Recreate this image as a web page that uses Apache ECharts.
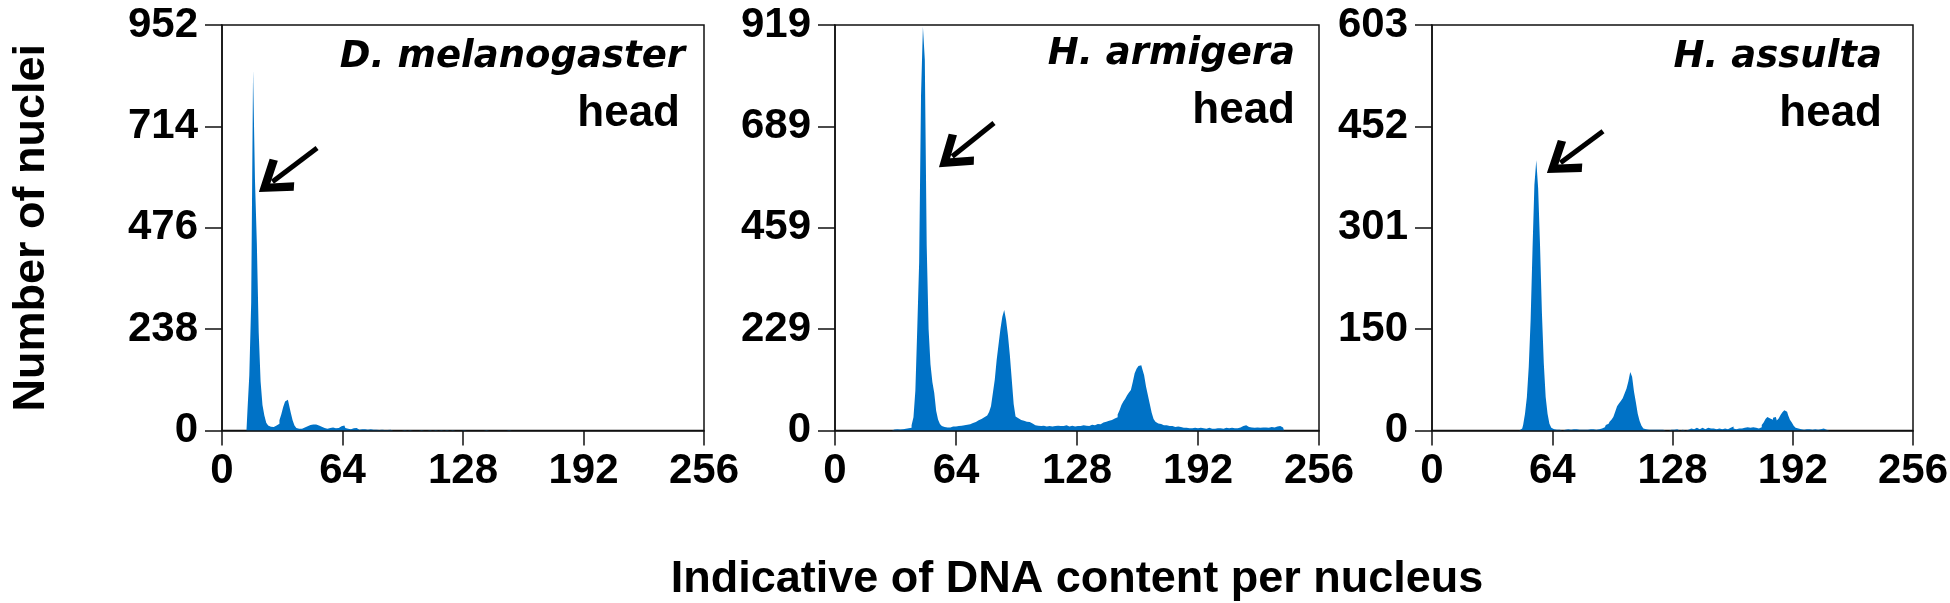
<!DOCTYPE html>
<html>
<head>
<meta charset="utf-8">
<script src="https://cdn.jsdelivr.net/npm/echarts@6/dist/echarts.min.js"></script>
<style>html,body{margin:0;padding:0;background:#fff}#c{width:1950px;height:603px}</style>
</head>
<body>
<div id="c"></div>
<script>
// ---- data ----
const xTicks = [0, 64, 128, 192, 256];
const yMaxes = [952, 919, 603];
const speciesNames = ['D. melanogaster', 'H. armigera', 'H. assulta'];
const tissueName = 'head';
const xTitle = 'Indicative of DNA content per nucleus';
const yTitle = 'Number of nuclei';

// D. melanogaster: counts for channels starting at dmelStart
const dmelStart = 13;
const dmelCounts = [
  0, 45, 130, 300, 846, 590, 440, 230, 115, 60,      // 13-22
  35, 18, 12, 9, 8, 10, 12, 16, 24, 38,              // 23-32
  55, 68, 72, 62, 42, 24, 12, 6, 4, 4,               // 33-42
  5, 7, 10, 12, 13, 14, 13, 14, 12, 10,              // 43-52
  9, 6, 5, 4, 6, 8, 7, 5, 4, 6,                      // 53-62
  10, 14, 12, 6, 4, 3, 4, 5, 6, 3,                   // 63-72
  2, 3, 2, 3, 2, 2, 3, 2, 2, 2,                      // 73-82
  1, 2, 2, 1, 2, 1, 2, 1, 0, 0,                      // 83-92
  0, 0, 0, 2, 1, 0, 0, 1, 0, 0,                      // 93-102
  0, 0, 0, 1, 0, 0, 0, 1, 0, 0,                      // 103-112
  1, 0, 0, 1, 0, 0, 1, 0, 0, 1,                      // 113-122
  1, 0, 0, 0, 0, 1, 0, 0, 0, 0,                      // 123-132
  0, 0, 0, 0, 0, 0, 0, 1, 0, 0,                      // 133-142
  0, 0, 0, 0, 0, 0, 0, 0, 0, 1,                      // 143-152
  0, 0, 0, 0, 0, 0, 0, 0, 0, 0,                      // 153-162
  0, 0, 0, 0, 0, 0, 0, 0, 0, 0,                      // 163-172
  0, 0, 0, 0, 0, 0, 0, 0, 0, 0,                      // 173-182
  0, 0, 0, 0, 0, 0, 0, 0, 0, 0,                      // 183-192
  0, 0, 1, 0                                         // 193-196
];

// H. armigera
const harmStart = 30;
const harmCounts = [
  0, 2, 0, 3, 2, 0, 3, 4, 3, 5,                      // 30-39
  6, 12, 30, 90, 230, 380, 760, 915, 840, 420,       // 40-49
  230, 150, 110, 85, 45, 25, 15, 10, 8, 7,           // 50-59
  8, 7, 9, 8, 9, 10, 9, 11, 12, 11,                  // 60-69
  13, 14, 15, 17, 19, 20, 23, 26, 28, 30,            // 70-79
  34, 38, 42, 55, 85, 115, 160, 195, 230, 258,       // 80-89
  273, 250, 215, 170, 115, 60, 32, 28, 24, 25,       // 90-99
  22, 20, 18, 19, 16, 14, 12, 11, 12, 10,            // 100-109
  11, 10, 9, 10, 11, 9, 10, 9, 11, 10,               // 110-119
  9, 10, 12, 10, 9, 11, 10, 9, 10, 8,                // 120-129
  10, 12, 9, 11, 10, 12, 13, 12, 13, 15,             // 130-139
  14, 16, 18, 20, 19, 22, 24, 25, 27, 30,            // 140-149
  36, 46, 58, 66, 72, 80, 86, 92, 110, 130,          // 150-159
  140, 146, 148, 140, 125, 100, 80, 60, 40, 26,      // 160-169
  20, 16, 15, 14, 12, 12, 11, 10, 10, 9,             // 170-179
  8, 9, 7, 8, 6, 7, 6, 5, 6, 5,                      // 180-189
  6, 4, 5, 6, 4, 5, 4, 5, 6, 4,                      // 190-199
  5, 4, 5, 6, 5, 4, 5, 6, 5, 4,                      // 200-209
  6, 5, 6, 5, 7, 8, 10, 12, 9, 8,                    // 210-219
  7, 8, 6, 7, 8, 6, 7, 8, 7, 6,                      // 220-229
  7, 8, 7, 8, 9, 10, 9, 7, 0                         // 230-238
];

// H. assulta
const hassStart = 45;
const hassCounts = [
  0, 0, 2, 3, 8, 25, 50, 95, 165, 270,               // 45-54
  365, 402, 360, 275, 175, 100, 50, 25, 10, 4,       // 55-64
  2, 1, 2, 1, 0, 2, 1, 2, 0, 1,                      // 65-74
  2, 1, 2, 1, 2, 1, 1, 2, 1, 2,                      // 75-84
  1, 2, 1, 2, 2, 3, 3, 5, 8, 10,                     // 85-94
  13, 16, 20, 28, 36, 40, 44, 48, 55, 62,            // 95-104
  73, 87, 80, 58, 42, 25, 14, 7, 3, 2,               // 105-114
  1, 0, 1, 1, 0, 1, 1, 0, 1, 0,                      // 115-124
  1, 0, 1, 2, 1, 2, 1, 0, 1, 0,                      // 125-134
  0, 1, 2, 3, 2, 3, 4, 2, 3, 4,                      // 135-144
  2, 3, 4, 3, 2, 3, 2, 4, 3, 2,                      // 145-154
  2, 3, 2, 3, 4, 6, 3, 2, 3, 2,                      // 155-164
  3, 4, 3, 5, 4, 3, 5, 4, 3, 3,                      // 165-174
  5, 8, 12, 17, 20, 18, 16, 19, 20, 15,              // 175-184
  18, 23, 27, 30, 28, 23, 16, 12, 7, 4,              // 185-194
  3, 2, 2, 1, 2, 1, 2, 1, 0, 2,                      // 195-204
  1, 0, 2, 3, 2, 1, 0, 0, 0, 0,                      // 205-214
  0, 0, 0, 0, 0, 0, 0, 0, 0, 0,                      // 215-224
  0, 0, 0, 2, 0                                      // 225-229
];

// arrows: [tail, head] in data coordinates of each panel
const arrowCoords = [
  [[50.5, 663], [26.8, 584]],
  [[84.1, 697], [62.0, 621]],
  [[91.0, 445], [68.4, 398]]
];

// ---- layout ----
const grids = [
  { left: 222, top: 25, width: 482, height: 405.5 },
  { left: 835, top: 25, width: 484, height: 405.5 },
  { left: 1432, top: 25, width: 481, height: 405.5 }
];
const starts = [dmelStart, harmStart, hassStart];
const counts = [dmelCounts, harmCounts, hassCounts];
const barColor = '#0072c6';
const tickFont = { fontFamily: 'Liberation Sans, Arial, sans-serif', fontWeight: 'bold', fontSize: 42, color: '#000' };
const chevron = 'path://M50,0 L100,84 L84,100 L50,42 L16,100 L0,84 Z';

const chart = echarts.init(document.getElementById('c'), null, { renderer: 'canvas' });

const xAxes = [], yAxes = [], series = [], graphics = [];
grids.forEach((g, i) => {
  xAxes.push({
    type: 'value', gridIndex: i, min: xTicks[0], max: xTicks[xTicks.length - 1],
    interval: xTicks[1] - xTicks[0],
    axisLine: { show: true, onZero: false, lineStyle: { color: '#111', width: 1.5 } },
    axisTick: { show: true, inside: false, length: 15, lineStyle: { color: '#111', width: 1.5 } },
    axisLabel: Object.assign({ margin: 20 }, tickFont),
    splitLine: { show: false },
    name: i === 1 ? xTitle : '',
    nameLocation: 'middle',
    nameGap: 127,
    nameTextStyle: { fontFamily: 'Liberation Sans, Arial, sans-serif', fontWeight: 'bold', fontSize: 45, color: '#000' }
  });
  const ymax = yMaxes[i];
  yAxes.push({
    type: 'value', gridIndex: i, min: 0, max: ymax, interval: ymax / 4,
    axisLine: { show: true, onZero: false, lineStyle: { color: '#111', width: 1.5 } },
    axisTick: { show: true, inside: false, length: 17, lineStyle: { color: '#111', width: 1.5 } },
    axisLabel: Object.assign({ margin: 24, formatter: v => String(Math.floor(v + 1e-6)) }, tickFont),
    splitLine: { show: false },
    name: i === 0 ? yTitle : '',
    nameLocation: 'middle',
    nameRotate: 90,
    nameGap: 168,
    nameTextStyle: { fontFamily: 'Liberation Sans, Arial, sans-serif', fontWeight: 'bold', fontSize: 45, color: '#000' }
  });
  const data = counts[i].map((v, k) => [starts[i] + k, v]);
  series.push({
    type: 'line', xAxisIndex: i, yAxisIndex: i, data: data,
    step: 'middle', symbol: 'none', showSymbol: false, silent: true,
    lineStyle: { width: 0, opacity: 0 },
    areaStyle: { color: barColor, opacity: 1 },
    itemStyle: { color: barColor },
    markLine: {
      silent: true, animation: false,
      symbol: ['none', chevron], symbolSize: [40, 34],
      lineStyle: { color: '#000', width: 5, type: 'solid', opacity: 1 },
      label: { show: false },
      data: [[{ coord: arrowCoords[i][0] }, { coord: arrowCoords[i][1] }]]
    }
  });
});

// panel annotations (species / tissue), right-aligned inside each plot box
const speciesRight = [685, 1295, 1882];
const headRight = [680, 1295, 1882];
const speciesBaseline = [68, 65, 68];
const headBaseline = [127, 124, 127];
grids.forEach((g, i) => {
  graphics.push({
    type: 'text', x: speciesRight[i], y: speciesBaseline[i] - 11, silent: true,
    style: { text: speciesNames[i], align: 'right', verticalAlign: 'middle',
      fontFamily: 'DejaVu Sans', fontStyle: 'italic', fontWeight: 'bold', fontSize: 37, fill: '#000' }
  });
  graphics.push({
    type: 'text', x: headRight[i], y: headBaseline[i] - 13.6, silent: true,
    style: { text: tissueName, align: 'right', verticalAlign: 'middle',
      fontFamily: 'Liberation Sans', fontWeight: 'bold', fontSize: 44, fill: '#000' }
  });
});

chart.setOption({
  animation: false,
  backgroundColor: '#fff',
  grid: grids.map(g => Object.assign({ show: true, borderColor: '#111', borderWidth: 1.5, backgroundColor: 'transparent', containLabel: false, outerBoundsMode: 'none' }, g)),
  xAxis: xAxes,
  yAxis: yAxes,
  series: series,
  graphic: graphics
});
</script>
</body>
</html>
